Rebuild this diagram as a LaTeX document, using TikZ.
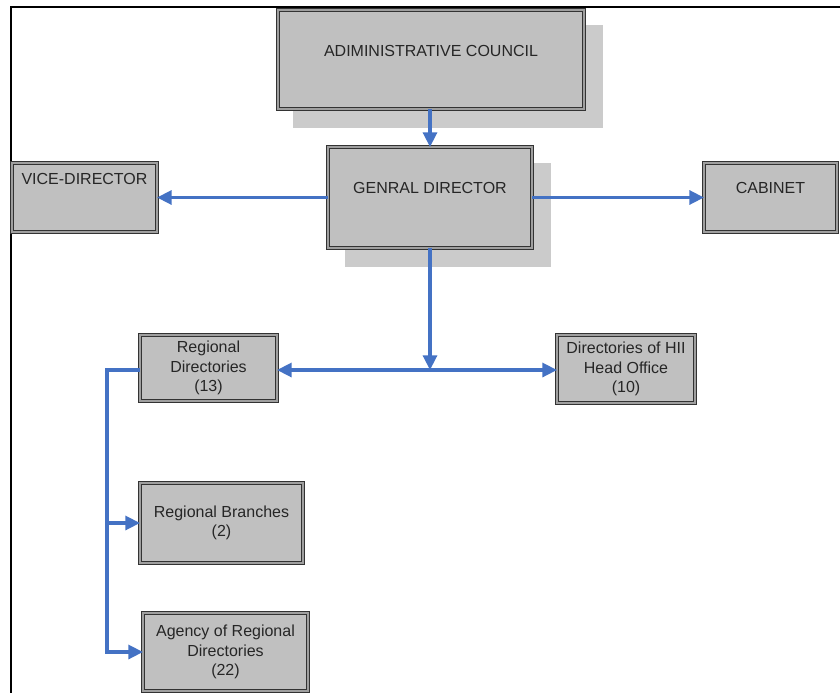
\documentclass[tikz,border=0pt]{standalone}
\usepackage{fontspec}
\setmainfont{Liberation Sans}
\usetikzlibrary{calc,arrows.meta,backgrounds}
\definecolor{linkblue}{HTML}{4472C4}
\definecolor{boxfill}{HTML}{C0C0C0}
\definecolor{shadowgray}{HTML}{CBCBCB}
\definecolor{rim}{HTML}{333333}

\begin{document}
\begin{tikzpicture}[x=0.75pt,y=-0.75pt,
  orgbox/.style={rectangle, fill=boxfill, draw=rim, line width=0.8pt,
    double=gray!75, double distance=0.8pt, inner sep=0pt, outer sep=0pt,
    align=center, font=\fontsize{12}{14.4}\selectfont, text=black!85},
  toplabel/.style={font=\fontsize{12}{14.4}\selectfont, text=black!85},
  link/.style={draw=linkblue, line width=2.4pt,
    -{Triangle[length=11pt,width=10.5pt]}},
  frameline/.style={line width=1.5pt, black}]

\useasboundingbox (0,0) rectangle (840,693);

% page frame (top and left rules)
\draw[frameline] (840,7) -- (11,7) -- (11,693);

% boxes
\node[orgbox, minimum width=229.5pt, minimum height=74.25pt,
  label={[toplabel, yshift=6.4pt]center:ADIMINISTRATIVE COUNCIL}] (admin) at (431,59.5) {};
\node[orgbox, minimum width=153pt, minimum height=75.75pt,
  label={[toplabel, yshift=7.5pt]center:GENRAL DIRECTOR}] (gd) at (430,197.5) {};
\node[orgbox, minimum width=108.75pt, minimum height=51.75pt,
  label={[toplabel, yshift=14.25pt]center:VICE-DIRECTOR}] (vice) at (84.5,197.5) {};
\node[orgbox, minimum width=99.75pt, minimum height=51.75pt,
  label={[toplabel, yshift=7.5pt]center:CABINET}] (cab) at (770.5,197.5) {};

\node[orgbox, minimum width=102.75pt, minimum height=49.5pt] (rd) at (208.5,368)
  {Regional\\Directories\\(13)};
\node[orgbox, minimum width=103.5pt, minimum height=51pt] (hii) at (626,369)
  {Directories of HII\\Head Office\\(10)};
\node[orgbox, minimum width=122.25pt, minimum height=60pt] (rb) at (221.5,523)
  {Regional Branches\\(2)};
\node[orgbox, minimum width=123.75pt, minimum height=58.5pt] (ag) at (225.5,652)
  {Agency of Regional\\Directories\\(22)};

% drop shadows behind the two top boxes
\begin{scope}[on background layer]
  \fill[shadowgray] ($(admin.south west)+(15,19)$) rectangle ($(admin.north east)+(19,15)$);
  \fill[shadowgray] ($(gd.south west)+(17,19)$) rectangle ($(gd.north east)+(19,16)$);
\end{scope}

% connectors
\draw[link] (gd.north |- admin.south) -- (gd.north);
\draw[link] (gd.west) -- (vice.east);
\draw[link] (gd.east) -- (cab.west);

\coordinate (hub) at (430,370);
\draw[link] (gd.south) -- (hub);
\draw[link] (hub) -- (rd.east |- hub);
\draw[link] (hub) -- (hii.west |- hub);

\coordinate (bus) at (107,370);
\draw[link] (rd.west |- bus) -- (bus) -- (bus |- ag.west) -- (ag.west);
\draw[link] (bus |- rb.west) -- (rb.west);

\end{tikzpicture}
\end{document}
